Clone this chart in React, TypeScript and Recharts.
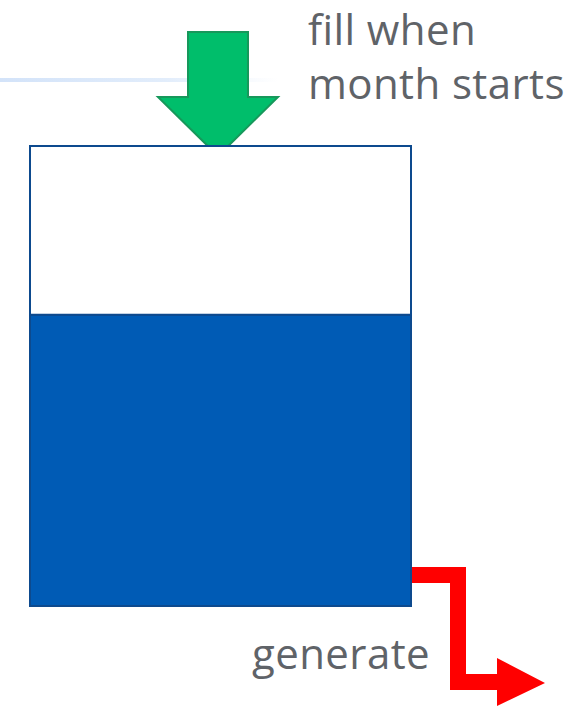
import { Bar, BarChart, Customized, XAxis, YAxis } from "recharts";

const W = 584;
const H = 707;

// tank: one category, stacked "filled" + "empty" share of capacity (%)
const categories = ["tank"];
const filled = [63.3];
const empty = [36.7];

const inLabel = ["fill when", "month starts"];
const outLabel = "generate";

const BLUE = "#005bb5";
const EDGE = "#0d4a8e";
const GREEN = "#00be6b";
const GREEN_EDGE = "#17985b";
const RED = "#ff0000";
const TEXT = "#5f6368";
const FONT = "'Open Sans', 'Noto Sans', sans-serif";

// box position in the page
const BOX = { left: 30, top: 146, right: 411, bottom: 606 };

const data = categories.map((name, i) => ({ name, filled: filled[i], empty: empty[i] }));

function Decor() {
  const mid = 218;
  const green = [
    [mid - 30, 32],
    [mid + 30, 32],
    [mid + 30, 97],
    [mid + 60, 97],
    [mid, BOX.top + 10],
    [mid - 60, 97],
    [mid - 30, 97],
  ];
  const r = BOX.right;
  const red = [
    [r, 567],
    [466, 567],
    [466, 674],
    [497, 674],
    [497, 658],
    [545, 683],
    [497, 706],
    [497, 690],
    [450, 690],
    [450, 583],
    [r, 583],
  ];
  const pts = (a: number[][]) => a.map((p) => p.join(",")).join(" ");
  return (
    <g>
      <defs>
        <linearGradient id="fade" x1="0" y1="0" x2="1" y2="0">
          <stop offset="0%" stopColor="#d3e3f9" />
          <stop offset="60%" stopColor="#e2edfb" />
          <stop offset="100%" stopColor="#ffffff" />
        </linearGradient>
      </defs>
      <rect x={0} y={78} width={278} height={4} fill="url(#fade)" />
      <polygon points={pts(red)} fill={RED} />
      <polygon points={pts(green)} fill={GREEN} stroke={GREEN_EDGE} strokeWidth={2} strokeLinejoin="miter" />
      {inLabel.map((t, i) => (
        <text key={t} x={308} y={45 + i * 54} fill={TEXT} fontSize={42} letterSpacing={0.4} fontFamily={FONT}>
          {t}
        </text>
      ))}
      <text x={252} y={669} fill={TEXT} fontSize={42} letterSpacing={0.4} fontFamily={FONT}>
        {outLabel}
      </text>
    </g>
  );
}

export default function App() {
  return (
    <div style={{ position: "fixed", left: 0, top: 0, width: W, height: H, background: "#fff" }}>
      <BarChart
        width={W}
        height={H}
        data={data}
        barCategoryGap={0}
        margin={{ top: BOX.top, right: W - BOX.right, bottom: H - BOX.bottom, left: BOX.left }}
      >
        <XAxis dataKey="name" hide />
        <YAxis hide domain={[0, 100]} />
        <Bar dataKey="filled" stackId="t" fill={BLUE} stroke={EDGE} strokeWidth={2} isAnimationActive={false} />
        <Bar dataKey="empty" stackId="t" fill="#ffffff" stroke={EDGE} strokeWidth={2} isAnimationActive={false} />
        <Customized component={Decor} />
      </BarChart>
    </div>
  );
}
